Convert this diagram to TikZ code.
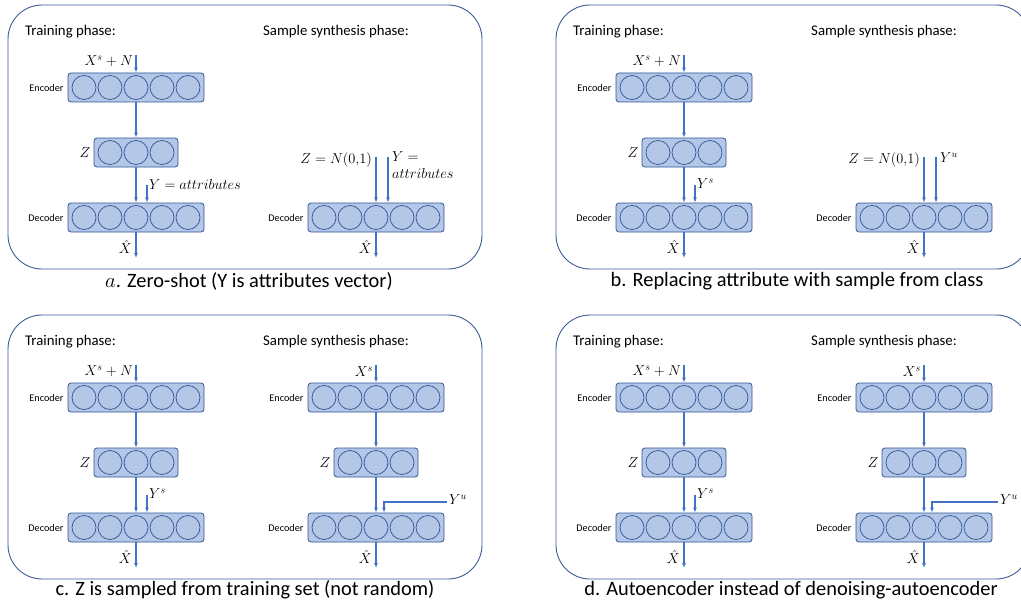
\documentclass[tikz,border=0pt]{standalone}
\usepackage{fontspec}
\setmainfont{Carlito}
\usetikzlibrary{calc,positioning,arrows.meta}
\definecolor{cellfill}{HTML}{B4C7E7}
\definecolor{cellline}{HTML}{2F5597}
\definecolor{flowblue}{HTML}{4472C4}
\definecolor{panelline}{HTML}{3C5C99}
\tikzset{
  layer/.style={draw=cellline, fill=cellfill, rounded corners=3pt, minimum height=29pt, line width=0.8pt, inner sep=0pt},
  unit/.style={circle, draw=cellline, minimum size=24pt, inner sep=0pt, line width=0.7pt},
  flow/.style={draw=flowblue, line width=1.2pt, -{Latex[length=5pt,width=4pt]}},
  panel/.style={draw=panelline, line width=0.9pt, rounded corners=34pt},
  phase/.style={font=\fontsize{14.8}{17}\selectfont, anchor=west, inner sep=0pt},
  side/.style={font=\fontsize{10.2}{12}\selectfont, inner sep=0pt},
  sym/.style={font=\fontsize{14}{17}\selectfont, inner sep=0pt},
  caption/.style={font=\fontsize{20.4}{23}\selectfont, inner sep=0pt},
}
% a row of units in a rounded box
\def\layer#1#2#3{\node[layer, minimum width={#3*26+6}] (#1) at (#2) {};
  \foreach \k in {1,...,#3} \node[unit] (#1-\k) at ($(#1)+({(\k-(#3+1)/2)*26},0)$) {};}
% left half of a panel: the denoising autoencoder being trained
\def\training#1#2{%
  \draw[panel] (8,5) rectangle (482,269);
  \node[phase] (train#1) at (25,32) {Training phase:};
  \node[phase] (synth#1) at (263,32) {Sample synthesis phase:};
  \layer{enc#1}{136,87.5}{5}
  \layer{z#1}{136,152.5}{3}
  \layer{dec#1}{136,217.5}{5}
  \node[side, left=4pt of enc#1] (enc#1l) {Encoder};
  \node[side, left=4pt of dec#1] (dec#1l) {Decoder};
  \node[sym, left=3pt of z#1] (z#1l) {$Z$};
  \coordinate (in#1) at (136,55);
  \node[sym, anchor=east] (in#1l) at (133,61) {$X^s + N$};
  \coordinate (y#1) at (147,185);
  \node[sym, anchor=west] (y#1l) at (149,184) {#2};
  \coordinate (out#1) at (136,258);
  \node[sym, anchor=east] (out#1l) at (132,247) {$\hat{X}$};
  \draw[flow] (in#1) -- (enc#1.north);
  \draw[flow] (enc#1.south) -- (z#1.north);
  \draw[flow] (z#1.south) -- (dec#1.north);
  \draw[flow] (y#1) -- (y#1 |- dec#1.north);
  \draw[flow] (dec#1.south) -- (out#1);}

\begin{document}
\begin{tikzpicture}[x=1pt, y=-1pt]
\useasboundingbox (0,0) rectangle (1021,602);
\clip (0,0) rectangle (1021,602);

%%%%% a. zero-shot %%%%%
\begin{scope}
  \training{A}{$Y = attributes$}
  \layer{sdecA}{376,217.5}{5}
  \node[side, left=4pt of sdecA] (sdecAl) {Decoder};
  \coordinate (szA) at (376,157);
  \node[sym, anchor=east] (szAl) at (372,160) {$Z = N(0{,}1)$};
  \coordinate (syA) at (388,157);
  \node[sym, anchor=north west, align=left] (syAl) at (392,151) {$Y =$\\$attributes$};
  \coordinate (soutA) at (376,258);
  \node[sym, anchor=east] (soutAl) at (372,247) {$\hat{X}$};
  \draw[flow] (szA) -- (sdecA.north);
  \draw[flow] (syA) -- (syA |- sdecA.north);
  \draw[flow] (sdecA.south) -- (soutA);
  \node[caption] (capA) at (249,281) {$a$. Zero-shot (Y is attributes vector)};
\end{scope}

%%%%% b. sample from class %%%%%
\begin{scope}[shift={(548,0)}]
  \training{B}{$Y^s$}
  \layer{sdecB}{376,217.5}{5}
  \node[side, left=4pt of sdecB] (sdecBl) {Decoder};
  \coordinate (szB) at (376,157);
  \node[sym, anchor=east] (szBl) at (372,160) {$Z = N(0{,}1)$};
  \coordinate (syB) at (388,157);
  \node[sym, anchor=west] (syBl) at (392,158) {$Y^u$};
  \coordinate (soutB) at (376,258);
  \node[sym, anchor=east] (soutBl) at (372,247) {$\hat{X}$};
  \draw[flow] (szB) -- (sdecB.north);
  \draw[flow] (syB) -- (syB |- sdecB.north);
  \draw[flow] (sdecB.south) -- (soutB);
  \node[caption] (capB) at (249,281) {b. Replacing attribute with sample from class};
\end{scope}

%%%%% c. Z from training set %%%%%
\begin{scope}[shift={(0,310)}]
  \training{C}{$Y^s$}
  \layer{sencC}{376,87.5}{5}
  \layer{szC}{376,152.5}{3}
  \layer{sdecC}{376,217.5}{5}
  \node[side, left=4pt of sencC] (sencCl) {Encoder};
  \node[side, left=4pt of sdecC] (sdecCl) {Decoder};
  \node[sym, left=3pt of szC] (szCl) {$Z$};
  \coordinate (sinC) at (376,55);
  \node[sym, anchor=east] (sinCl) at (373,62) {$X^s$};
  \coordinate (syC) at (447,192);
  \coordinate (syCk) at (384,192);
  \node[sym, anchor=west] (syCl) at (449,190) {$Y^u$};
  \coordinate (soutC) at (376,258);
  \node[sym, anchor=east] (soutCl) at (372,247) {$\hat{X}$};
  \draw[flow] (sinC) -- (sencC.north);
  \draw[flow] (sencC.south) -- (szC.north);
  \draw[flow] (szC.south) -- (sdecC.north);
  \draw[flow] (syC) -- (syCk) -- (syCk |- sdecC.north);
  \draw[flow] (sdecC.south) -- (soutC);
  \node[caption] (capC) at (245,280) {c. Z is sampled from training set (not random)};
\end{scope}

%%%%% d. plain autoencoder %%%%%
\begin{scope}[shift={(548,310)}]
  \training{D}{$Y^s$}
  \layer{sencD}{376,87.5}{5}
  \layer{szD}{376,152.5}{3}
  \layer{sdecD}{376,217.5}{5}
  \node[side, left=4pt of sencD] (sencDl) {Encoder};
  \node[side, left=4pt of sdecD] (sdecDl) {Decoder};
  \node[sym, left=3pt of szD] (szDl) {$Z$};
  \coordinate (sinD) at (376,55);
  \node[sym, anchor=east] (sinDl) at (373,62) {$X^s$};
  \coordinate (syD) at (450,192);
  \coordinate (syDk) at (384,192);
  \node[sym, anchor=west] (syDl) at (452,190) {$Y^u$};
  \coordinate (soutD) at (376,258);
  \node[sym, anchor=east] (soutDl) at (372,247) {$\hat{X}$};
  \draw[flow] (sinD) -- (sencD.north);
  \draw[flow] (sencD.south) -- (szD.north);
  \draw[flow] (szD.south) -- (sdecD.north);
  \draw[flow] (syD) -- (syDk) -- (syDk |- sdecD.north);
  \draw[flow] (sdecD.south) -- (soutD);
  \node[caption] (capD) at (243,280) {d. Autoencoder instead of denoising-autoencoder};
\end{scope}

\end{tikzpicture}
\end{document}
